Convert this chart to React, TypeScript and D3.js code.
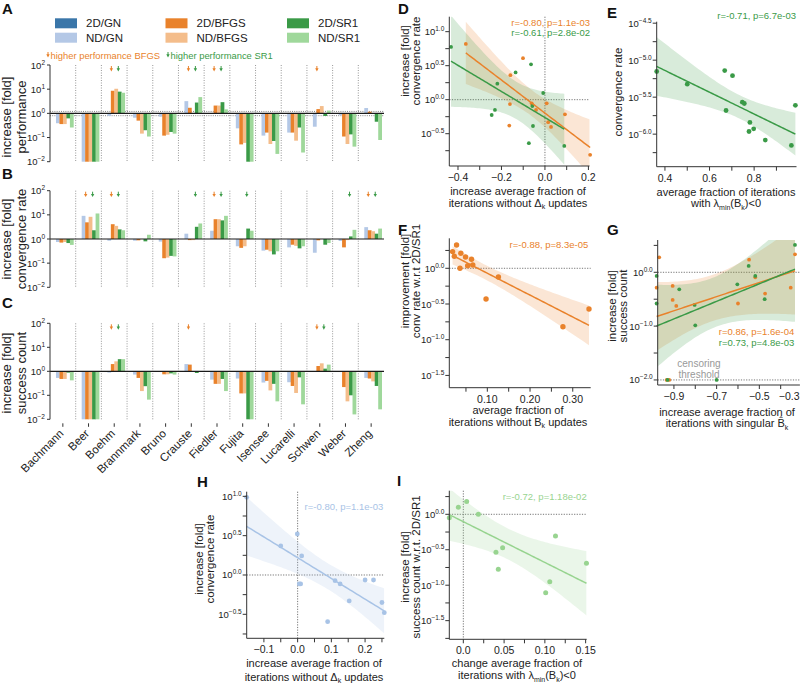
import * as d3 from 'd3';

const FONT = '"Liberation Sans", Arial, Helvetica, sans-serif';

// tab20-like pairs, a bit muted as in the figure
const colGn2d = '#3a76a9';
const colGnNd = '#b4c8e6';
const colBfgs2d = '#e9822b';
const colBfgsNd = '#f4bd8b';
const colSr12d = '#3a9a47';
const colSr1Nd = '#9fd89b';

const studies = ['Bachmann', 'Beer', 'Boehm', 'Brannmark', 'Bruno', 'Crauste', 'Fiedler', 'Fujita', 'Isensee', 'Lucarelli', 'Schwen', 'Weber', 'Zheng'];
const methods = ['2D/GN', 'ND/GN', '2D/BFGS', 'ND/BFGS', '2D/SR1', 'ND/SR1'];
const methodColors = [colGn2d, colGnNd, colBfgs2d, colBfgsNd, colSr12d, colSr1Nd];

// A: fold increase in performance (2D/GN is the reference = 1)
const perfNdGn = [0.39, 0.01, 0.78, 0.66, 0.73, 3.2, 1.0, 0.24, 0.12, 0.16, 0.28, 0.85, 1.66];
const perf2dBfgs = [0.36, 0.01, 8.6, 0.5, 0.12, 1.7, 2.1, 0.052, 0.16, 0.16, 1.5, 0.11, 1.17];
const perfNdBfgs = [0.36, 0.01, 10.4, 0.145, 0.13, 1.0, 2.1, 0.06, 0.054, 0.074, 2.0, 0.054, 0.96];
const perf2dSr1 = [0.62, 0.01, 7.9, 0.2, 0.17, 2.8, 2.9, 0.01, 0.072, 0.26, 0.78, 0.135, 0.45];
const perfNdSr1 = [0.26, 0.01, 7.1, 0.11, 0.145, 4.7, 1.46, 0.01, 0.021, 0.024, 1.3, 0.042, 0.079];

// B: fold increase in convergence rate
const convNdGn = [0.75, 9.1, 0.85, 0.85, 0.78, 1.66, 2.2, 0.5, 0.33, 0.45, 0.27, 0.83, 3.1];
const conv2dBfgs = [0.71, 4.9, 4.1, 0.88, 0.16, 0.9, 6.6, 0.43, 0.36, 0.58, 0.88, 0.45, 2.3];
const convNdBfgs = [0.75, 8.3, 3.5, 1.0, 0.17, 0.9, 6.6, 0.5, 0.31, 0.52, 1.0, 0.9, 2.1];
const conv2dSr1 = [0.68, 2.3, 2.5, 0.8, 0.2, 3.2, 5.9, 2.7, 0.23, 0.41, 0.58, 1.28, 1.66];
const convNdSr1 = [0.57, 11.4, 2.3, 1.5, 0.19, 4.4, 9.1, 2.2, 0.31, 0.5, 0.68, 2.4, 2.7];

// C: fold increase in success count
const succNdGn = [0.53, 0.01, 0.88, 0.73, 1.0, 2.0, 0.45, 0.5, 0.34, 0.35, 1.0, 1.0, 0.53];
const succ2dBfgs = [0.48, 0.01, 2.0, 0.53, 0.75, 1.9, 0.3, 0.12, 0.4, 0.245, 1.66, 0.22, 0.5];
const succNdBfgs = [0.48, 0.01, 2.6, 0.15, 0.75, 1.0, 0.3, 0.12, 0.16, 0.125, 2.15, 0.056, 0.38];
const succ2dSr1 = [0.88, 0.01, 3.2, 0.24, 0.82, 0.85, 0.48, 0.01, 0.3, 0.56, 1.29, 0.1, 0.245];
const succNdSr1 = [0.42, 0.01, 3.2, 0.066, 0.73, 1.0, 0.15, 0.01, 0.056, 0.042, 1.9, 0.016, 0.026];

const perfBfgsUp = ['Boehm', 'Crauste', 'Fiedler', 'Schwen'];
const perfSr1Up = ['Boehm', 'Crauste', 'Fiedler'];
const convBfgsUp = ['Beer', 'Boehm', 'Fiedler', 'Zheng'];
const convSr1Up = ['Beer', 'Boehm', 'Crauste', 'Fiedler', 'Fujita', 'Weber', 'Zheng'];
const succBfgsUp = ['Boehm', 'Crauste', 'Schwen'];
const succSr1Up = ['Boehm', 'Schwen'];

// scatter panels, y values are log10 fold
const dBfgsX = [-0.364, -0.159, -0.101, -0.161, -0.164, -0.061, -0.041, 0.008, 0.015, 0.028, 0.092, 0.208];
const dBfgsY = [0.82, 0.36, 0.61, -0.064, -0.38, -0.054, -0.15, -0.054, -0.33, -0.4, -0.216, -0.81];
const dSr1X = [-0.432, -0.135, -0.064, -0.219, -0.23, -0.245, -0.058, -0.055, -0.074, -0.008, 0.089];
const dSr1Y = [0.775, 0.4, 0.52, 0.235, -0.15, -0.225, -0.093, -0.387, -0.64, 0.098, -0.68];

const eSr1X = [0.363, 0.5, 0.668, 0.703, 0.674, 0.747, 0.756, 0.781, 0.777, 0.798, 0.85, 0.967, 0.985];
const eSr1Y = [-5.153, -5.324, -5.14, -5.21, -5.68, -5.568, -5.586, -5.842, -5.964, -5.928, -6.08, -6.153, -5.61];

const fBfgsX = [0.0187, 0.0227, 0.028, 0.038, 0.036, 0.049, 0.054, 0.063, 0.066, 0.126, 0.097, 0.277, 0.338];
const fBfgsY = [0.234, 0.168, 0.327, 0.21, 0.0, 0.159, 0.037, 0.126, 0.047, -0.121, -0.43, -0.818, -0.57];

const gBfgsX = [-0.969, -0.981, -0.906, -0.906, -0.889, -0.934, -0.922, -0.6, -0.548, -0.519, -0.473, -0.353, -0.333];
const gBfgsY = [0.279, -0.285, -0.254, -0.514, -0.625, -2, -2, -0.58, 0.235, -0.093, -0.396, -0.285, 0.334];
const gSr1X = [-0.981, -0.981, -0.875, -0.803, -0.8, -0.93, -0.7, -0.603, -0.55, -0.519, -0.475, -0.333];
const gSr1Y = [-0.068, -0.58, -0.316, -0.607, -0.985, -2, -2, -0.223, 0.118, -0.068, -0.5, 0.508];

const hNdGnX = [-0.151, -0.05, -0.001, 0.012, 0.005, 0.009, 0.111, 0.126, 0.153, 0.089, 0.2, 0.225, 0.25, 0.257];
const hNdGnY = [0.987, 0.369, 0.521, 0.242, -0.114, -0.114, -0.072, -0.114, -0.33, -0.593, -0.064, -0.064, -0.35, -0.479];

const iNdSr1X = [-0.0172, -0.0061, 0.0041, 0.0184, 0.04, 0.0429, 0.0482, 0.101, 0.106, 0.113, 0.151];
const iNdSr1Y = [-0.047, 0.099, 0.179, 0.0, -0.536, -0.776, -0.47, -1.105, -0.95, -0.306, -0.691];

const minus = (s: string) => s.replace('-', '\u2212');

function fitLine(xs: number[], ys: number[]) {
  const n = xs.length;
  const mx = d3.mean(xs)!, my = d3.mean(ys)!;
  const sxx = d3.sum(xs, v => (v - mx) ** 2);
  const sxy = d3.sum(xs, (v, i) => (v - mx) * (ys[i] - my));
  const b = sxy / sxx, a = my - b * mx;
  const s = Math.sqrt(d3.sum(xs, (v, i) => (ys[i] - a - b * v) ** 2) / (n - 2));
  const df = n - 2;
  const t = 1.96 + 2.5 / df + 3 / (df * df);
  const [lo, hi] = d3.extent(xs) as [number, number];
  return d3.range(61).map(i => {
    const xv = lo + ((hi - lo) * i) / 60;
    const yv = a + b * xv;
    const h = t * s * Math.sqrt(1 / n + (xv - mx) ** 2 / sxx);
    return { x: xv, y: yv, lo: yv - h, hi: yv + h };
  });
}

function Arrow({ x, y, color }: { x: number; y: number; color: string }) {
  return (
    <g>
      <line x1={x} x2={x} y1={y} y2={y + 3} stroke={color} strokeWidth={1} />
      <path d={`M${x - 1.7},${y + 2.2}L${x + 1.7},${y + 2.2}L${x},${y + 5.4}Z`} fill={color} />
    </g>
  );
}

interface BarProps {
  yTop: number;
  yBottom: number;
  series: number[][];
  bfgsUp: string[];
  sr1Up: string[];
  band?: boolean;
  xLabels?: boolean;
}

function BarPanel({ yTop, yBottom, series, bfgsUp, sr1Up, band, xLabels }: BarProps) {
  const x = d3.scaleBand<string>().domain(studies).range([50, 384]);
  const inner = d3.scaleBand<string>().domain(methods).range([2.5, x.bandwidth() - 2.3]);
  const y = d3.scaleLog().domain([0.01, 100]).range([yBottom, yTop]).clamp(true);
  const decades = [100, 10, 1, 0.1, 0.01];
  return (
    <g>
      {studies.slice(1).map(s => (
        <line key={s} x1={x(s)} x2={x(s)} y1={yTop} y2={yBottom} stroke="#8c8c8c" strokeWidth={0.9} strokeDasharray="1,1.5" />
      ))}
      {band && [1.2, 0.8].map(v => (
        <line key={v} x1={50} x2={384} y1={y(v)} y2={y(v)} stroke="#777" strokeWidth={0.9} strokeDasharray="1,1.2" />
      ))}
      {series.map((vals, k) =>
        vals.map((v, i) => {
          const m = methods[k + 1];
          const y0 = y(1), y1 = y(v);
          return (
            <rect key={`${k}-${i}`} x={x(studies[i])! + inner(m)!} width={inner.bandwidth() + 0.3}
              y={Math.min(y0, y1)} height={Math.abs(y1 - y0)} fill={methodColors[k + 1]} />
          );
        })
      )}
      <line x1={50} x2={384} y1={y(1)} y2={y(1)} stroke="#1a1a1a" strokeWidth={1.2} />
      <line x1={50} x2={50} y1={yTop} y2={yBottom} stroke="#333" strokeWidth={1} />
      {decades.map(d => {
        const e = Math.round(Math.log10(d));
        return (
          <g key={d}>
            <line x1={47} x2={50} y1={y(d)} y2={y(d)} stroke="#333" />
            <text x={45} y={y(d) + 3.5} textAnchor="end" fontSize={9.5} fill="#222">
              10<tspan dy={-4} fontSize={6.5}>{minus(String(e))}</tspan>
            </text>
          </g>
        );
      })}
      {bfgsUp.map(s => <Arrow key={'b' + s} x={x(s)! + inner('2D/BFGS')! + 0.5} y={yTop + 1} color={colBfgs2d} />)}
      {sr1Up.map(s => <Arrow key={'s' + s} x={x(s)! + inner('2D/SR1')! + 0.5} y={yTop + 1} color={colSr12d} />)}
      {xLabels && studies.map(s => {
        const cx = x(s)! + x.bandwidth() / 2;
        return (
          <g key={s}>
            <line x1={cx} x2={cx} y1={yBottom + 4} y2={yBottom + 7.5} stroke="#333" />
            <text transform={`translate(${cx + 1.5},${yBottom + 15}) rotate(-45)`} textAnchor="end" fontSize={11.5} fill="#222">{s}</text>
          </g>
        );
      })}
    </g>
  );
}

interface Series { xs: number[]; ys: number[]; color: string; r: number }
interface ScatterProps {
  id: string;
  box: [number, number, number, number];
  xDomain: [number, number];
  yDomain: [number, number];
  xMajor: number[];
  xMinor: number[];
  xFmt: (v: number) => string;
  yMajor: number[];
  yMinor: number[];
  series: Series[];
  vZero?: boolean;
  hLines?: number[];
}

function Scatter(p: ScatterProps) {
  const [x0, x1, yT, yB] = p.box;
  const x = d3.scaleLinear().domain(p.xDomain).range([x0, x1]);
  const y = d3.scaleLinear().domain(p.yDomain).range([yB, yT]);
  type F = { x: number; y: number; lo: number; hi: number };
  const area = d3.area<F>().x(d => x(d.x)).y0(d => y(d.lo)).y1(d => y(d.hi));
  const line = d3.line<F>().x(d => x(d.x)).y(d => y(d.y));
  const fits = p.series.map(s => fitLine(s.xs, s.ys));
  return (
    <g>
      <clipPath id={p.id}><rect x={x0} y={yT} width={x1 - x0} height={yB - yT} /></clipPath>
      {p.vZero && <line x1={x(0)} x2={x(0)} y1={yT} y2={yB} stroke="#666" strokeWidth={0.9} strokeDasharray="1.2,1.4" />}
      {(p.hLines || []).map(h => (
        <line key={h} x1={x0} x2={x1} y1={y(h)} y2={y(h)} stroke="#666" strokeWidth={0.9} strokeDasharray="1.2,1.4" />
      ))}
      <g clipPath={`url(#${p.id})`}>
        {fits.map((f, k) => <path key={'a' + k} d={area(f)!} fill={p.series[k].color} opacity={0.2} />)}
      </g>
      {p.series.map((s, k) => s.xs.map((v, i) => (
        <circle key={`${k}-${i}`} cx={x(v)} cy={y(s.ys[i])} r={s.r} fill={s.color} />
      )))}
      {fits.map((f, k) => <path key={'l' + k} d={line(f)!} fill="none" stroke={p.series[k].color} strokeWidth={1.5} />)}
      <line x1={x0} x2={x0} y1={yT} y2={yB} stroke="#333" />
      <line x1={x0} x2={x1} y1={yB} y2={yB} stroke="#333" />
      {[...p.yMajor, ...p.yMinor].map(v => (
        <line key={'yt' + v} x1={x0 - 4} x2={x0} y1={y(v)} y2={y(v)} stroke="#333" />
      ))}
      {p.yMajor.map(v => (
        <text key={'yl' + v} x={x0 - 5} y={y(v) + 3.5} textAnchor="end" fontSize={9.5} fill="#222">
          10<tspan dy={-4} fontSize={6.5}>{minus(v.toFixed(1))}</tspan>
        </text>
      ))}
      {[...p.xMajor, ...p.xMinor].filter(v => x(v) <= x1 + 0.5).map(v => (
        <line key={'xt' + v} x1={x(v)} x2={x(v)} y1={yB} y2={yB + 4} stroke="#333" />
      ))}
      {p.xMajor.map(v => {
        const px = x(v);
        const over = px > 790;
        return (
          <text key={'xl' + v} x={over ? 799.5 : px} y={yB + 15} textAnchor={over ? 'end' : 'middle'} fontSize={10.5} fill="#222">
            {minus(p.xFmt(v))}
          </text>
        );
      })}
    </g>
  );
}

// text pieces: plain strings, or ['sub', text] for a subscript
type Piece = string | ['sub', string];

function Rich({ parts }: { parts: Piece[] }) {
  let shifted = false;
  return (
    <>
      {parts.map((p, i) => {
        if (typeof p === 'string') {
          const dy = shifted ? -2.5 : 0;
          shifted = false;
          return <tspan key={i} dy={dy}>{p}</tspan>;
        }
        shifted = true;
        return <tspan key={i} dy={2.5} fontSize={7}>{p[1]}</tspan>;
      })}
    </>
  );
}

function YLabel({ x, y, lines, size }: { x: number[]; y: number; lines: string[]; size: number }) {
  return (
    <g>
      {lines.map((l, i) => (
        <text key={i} transform={`translate(${x[i]},${y}) rotate(-90)`} textAnchor="middle" fontSize={size} fill="#222">{l}</text>
      ))}
    </g>
  );
}

function XLabel({ x, y, lines }: { x: number; y: number[]; lines: Piece[][] }) {
  return (
    <g>
      {lines.map((l, i) => (
        <text key={i} x={x} y={y[i]} textAnchor="middle" fontSize={11} fill="#222"><Rich parts={l} /></text>
      ))}
    </g>
  );
}

function Letter({ x, y, t }: { x: number; y: number; t: string }) {
  return <text x={x} y={y} fontSize={15} fontWeight="bold" fill="#111">{t}</text>;
}

export default function App() {
  const f1 = (v: number) => v.toFixed(1);
  const f2 = (v: number) => v.toFixed(2);
  const fI = (v: number) => (v === 0 ? '0.0' : v.toFixed(2));
  const legendCols = [55, 165.5, 287];
  const legendRows = [18.3, 32.7];
  return (
    <div style={{ position: 'absolute', left: 0, top: 0 }}>
      <svg width={800} height={686} style={{ display: 'block', fontFamily: FONT }}>
        <rect width={800} height={686} fill="#fff" />

        {/* legend */}
        {methods.map((m, i) => {
          const cx = legendCols[Math.floor(i / 2)];
          const ry = legendRows[i % 2];
          return (
            <g key={m}>
              <rect x={cx} y={ry} width={22} height={10} fill={methodColors[i]} />
              <text x={cx + 31} y={ry + 9} fontSize={11.5} fill="#222">{m}</text>
            </g>
          );
        })}
        <Arrow x={48} y={52} color={colBfgs2d} />
        <text x={50.5} y={58.5} fontSize={9.4} fill={colBfgs2d}>higher performance BFGS</text>
        <Arrow x={168} y={52} color={colSr12d} />
        <text x={170.5} y={58.5} fontSize={9.4} fill={colSr12d}>higher performance SR1</text>

        <Letter x={2} y={13.5} t="A" />
        <Letter x={2} y={178.5} t="B" />
        <Letter x={2} y={308} t="C" />
        <BarPanel yTop={65} yBottom={161.7} series={[perfNdGn, perf2dBfgs, perfNdBfgs, perf2dSr1, perfNdSr1]}
          bfgsUp={perfBfgsUp} sr1Up={perfSr1Up} band />
        <BarPanel yTop={190.7} yBottom={287.3} series={[convNdGn, conv2dBfgs, convNdBfgs, conv2dSr1, convNdSr1]}
          bfgsUp={convBfgsUp} sr1Up={convSr1Up} />
        <BarPanel yTop={323.3} yBottom={419.3} series={[succNdGn, succ2dBfgs, succNdBfgs, succ2dSr1, succNdSr1]}
          bfgsUp={succBfgsUp} sr1Up={succSr1Up} xLabels />
        <YLabel x={[11, 26]} y={117} size={13} lines={['increase [fold]', 'performance']} />
        <YLabel x={[11, 26]} y={239} size={13} lines={['increase [fold]', 'convergence rate']} />
        <YLabel x={[11, 26]} y={373} size={13} lines={['increase [fold]', 'success count']} />

        {/* D */}
        <Letter x={398} y={13.5} t="D" />
        <Scatter id="cD" box={[449.3, 589.5, 16.7, 166]} xDomain={[-0.44, 0.205]} yDomain={[-0.975, 1.22]}
          xMajor={[-0.4, -0.2, 0, 0.2]} xMinor={[-0.3, -0.1, 0.1]} xFmt={f1}
          yMajor={[1, 0.5, 0, -0.5]} yMinor={[0.75, 0.25, -0.25, -0.75]} vZero hLines={[0]}
          series={[{ xs: dBfgsX, ys: dBfgsY, color: colBfgs2d, r: 1.9 }, { xs: dSr1X, ys: dSr1Y, color: colSr12d, r: 1.9 }]} />
        <text x={590} y={26} textAnchor="end" fontSize={9.5} fill={colBfgs2d}>r=-0.80, p=1.1e-03</text>
        <text x={590} y={36} textAnchor="end" fontSize={9.5} fill={colSr12d}>r=-0.61, p=2.8e-02</text>
        <YLabel x={[409, 419.5]} y={61} size={11.5} lines={['increase [fold]', 'convergence rate']} />
        <XLabel x={518} y={[195, 206.5]} lines={[['increase average fraction of'], ['iterations without Δ', ['sub', 'k'], ' updates']]} />

        {/* E */}
        <Letter x={607} y={18} t="E" />
        <Scatter id="cE" box={[656.7, 796.5, 21.7, 166.7]} xDomain={[0.363, 0.99]} yDomain={[-6.44, -4.48]}
          xMajor={[0.4, 0.6, 0.8]} xMinor={[0.5, 0.7, 0.9]} xFmt={f1}
          yMajor={[-4.5, -5, -5.5, -6]} yMinor={[-4.75, -5.25, -5.75, -6.25]}
          series={[{ xs: eSr1X, ys: eSr1Y, color: colSr12d, r: 2.4 }]} />
        <text x={796} y={18.5} textAnchor="end" fontSize={9.5} fill={colSr12d}>r=-0.71, p=6.7e-03</text>
        <YLabel x={[622]} y={92} size={11.5} lines={['convergence rate']} />
        <XLabel x={726} y={[195.5, 207]} lines={[['average fraction of iterations'], ['with λ', ['sub', 'min'], '(B', ['sub', 'k'], ')<0']]} />

        {/* F */}
        <Letter x={398} y={235} t="F" />
        <Scatter id="cF" box={[449.3, 590.7, 238.3, 387.7]} xDomain={[0.011, 0.342]} yDomain={[-1.672, 0.42]}
          xMajor={[0.1, 0.2, 0.3]} xMinor={[0.05, 0.15, 0.25]} xFmt={f2}
          yMajor={[0, -0.5, -1, -1.5]} yMinor={[0.25, -0.25, -0.75, -1.25]} hLines={[0]}
          series={[{ xs: fBfgsX, ys: fBfgsY, color: colBfgs2d, r: 2.7 }]} />
        <text x={588.3} y={247.5} textAnchor="end" fontSize={9.5} fill={colBfgs2d}>r=-0.88, p=8.3e-05</text>
        <YLabel x={[409, 419.5]} y={281} size={11.5} lines={['improvement [fold]', 'conv rate w.r.t 2D/SR1']} />
        <XLabel x={518} y={[414, 425.5]} lines={[['average fraction of'], ['iterations without B', ['sub', 'k'], ' updates']]} />

        {/* G */}
        <Letter x={607} y={235} t="G" />
        <Scatter id="cG" box={[657.7, 799.9, 240, 385]} xDomain={[-0.976, -0.31]} yDomain={[-2.094, 0.6]}
          xMajor={[-0.9, -0.7, -0.5, -0.3]} xMinor={[-0.8, -0.6, -0.4]} xFmt={f1}
          yMajor={[0, -1, -2]} yMinor={[0.5, -0.5, -1.5]} hLines={[0, -2]}
          series={[{ xs: gBfgsX, ys: gBfgsY, color: colBfgs2d, r: 1.9 }, { xs: gSr1X, ys: gSr1Y, color: colSr12d, r: 1.9 }]} />
        <text x={699} y={366.5} textAnchor="middle" fontSize={10} fill="#999">censoring</text>
        <text x={699} y={377.5} textAnchor="middle" fontSize={10} fill="#999">threshold</text>
        <text x={794.3} y={335} textAnchor="end" fontSize={9.5} fill={colBfgs2d}>r=0.86, p=1.6e-04</text>
        <text x={794.3} y={346} textAnchor="end" fontSize={9.5} fill={colSr12d}>r=0.73, p=4.8e-03</text>
        <YLabel x={[615.5, 627]} y={306} size={11.5} lines={['increase [fold]', 'success count']} />
        <XLabel x={727} y={[415.5, 427]} lines={[['increase average fraction of'], ['iterations with singular B\u0302', ['sub', 'k']]]} />

        {/* H */}
        <Letter x={197} y={487} t="H" />
        <Scatter id="cH" box={[246.7, 384.3, 491.7, 638.3]} xDomain={[-0.151, 0.257]} yDomain={[-0.805, 1.059]}
          xMajor={[-0.1, 0, 0.1, 0.2]} xMinor={[-0.05, 0.05, 0.15, 0.25]} xFmt={f1}
          yMajor={[1, 0.5, 0, -0.5]} yMinor={[0.75, 0.25, -0.25, -0.75]} vZero hLines={[0]}
          series={[{ xs: hNdGnX, ys: hNdGnY, color: '#a8c3e6', r: 2.4 }]} />
        <text x={383.3} y={509.5} textAnchor="end" fontSize={9.5} fill="#a8c3e6">r=-0.80, p=1.1e-03</text>
        <YLabel x={[203, 214]} y={559} size={11.5} lines={['increase [fold]', 'convergence rate']} />
        <XLabel x={314} y={[667, 680.5]} lines={[['increase average fraction of'], ['iterations without Δ', ['sub', 'k'], ' updates']]} />

        {/* I */}
        <Letter x={397} y={486} t="I" />
        <Scatter id="cI" box={[449.3, 586.7, 490.7, 639.3]} xDomain={[-0.0172, 0.1513]} yDomain={[-1.763, 0.333]}
          xMajor={[0, 0.05, 0.1, 0.15]} xMinor={[0.025, 0.075, 0.125]} xFmt={fI}
          yMajor={[0, -0.5, -1, -1.5]} yMinor={[0.25, -0.25, -0.75, -1.25, -1.75]} vZero hLines={[0]}
          series={[{ xs: iNdSr1X, ys: iNdSr1Y, color: '#98d490', r: 2.5 }]} />
        <text x={586.7} y={499.5} textAnchor="end" fontSize={9.5} fill="#98d490">r=-0.72, p=1.18e-02</text>
        <YLabel x={[409, 420]} y={567} size={11.5} lines={['increase [fold]', 'success count w.r.t. 2D/SR1']} />
        <XLabel x={517} y={[667, 679]} lines={[['change average fraction of'], ['iterations with λ', ['sub', 'min'], '(B', ['sub', 'k'], ')<0']]} />
      </svg>
    </div>
  );
}
